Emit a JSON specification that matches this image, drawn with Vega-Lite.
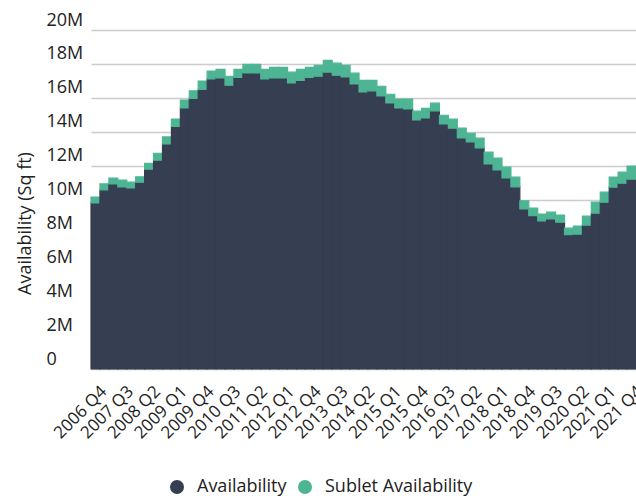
{
  "$schema": "https://vega.github.io/schema/vega-lite/v6.json",
  "width": 590,
  "height": 339,
  "autosize": {"type": "none"},
  "padding": {"left": 46, "top": 30, "right": 0, "bottom": 130},
  "background": "#ffffff",
  "config": {
    "font": "Open Sans",
    "view": {"stroke": null}
  },
  "data": {
    "values": [
      {"q": "2006 Q4", "Availability": 9800000, "Sublet Availability": 340000},
      {"q": "2007 Q1", "Availability": 10570000, "Sublet Availability": 350000},
      {"q": "2007 Q2", "Availability": 10920000, "Sublet Availability": 340000},
      {"q": "2007 Q3", "Availability": 10750000, "Sublet Availability": 390000},
      {"q": "2007 Q4", "Availability": 10690000, "Sublet Availability": 330000},
      {"q": "2008 Q1", "Availability": 11020000, "Sublet Availability": 320000},
      {"q": "2008 Q2", "Availability": 11790000, "Sublet Availability": 350000},
      {"q": "2008 Q3", "Availability": 12320000, "Sublet Availability": 410000},
      {"q": "2008 Q4", "Availability": 13280000, "Sublet Availability": 410000},
      {"q": "2009 Q1", "Availability": 14320000, "Sublet Availability": 430000},
      {"q": "2009 Q2", "Availability": 15400000, "Sublet Availability": 470000},
      {"q": "2009 Q3", "Availability": 15970000, "Sublet Availability": 440000},
      {"q": "2009 Q4", "Availability": 16500000, "Sublet Availability": 490000},
      {"q": "2010 Q1", "Availability": 17110000, "Sublet Availability": 470000},
      {"q": "2010 Q2", "Availability": 17170000, "Sublet Availability": 510000},
      {"q": "2010 Q3", "Availability": 16740000, "Sublet Availability": 530000},
      {"q": "2010 Q4", "Availability": 17210000, "Sublet Availability": 470000},
      {"q": "2011 Q1", "Availability": 17470000, "Sublet Availability": 510000},
      {"q": "2011 Q2", "Availability": 17470000, "Sublet Availability": 510000},
      {"q": "2011 Q3", "Availability": 17110000, "Sublet Availability": 570000},
      {"q": "2011 Q4", "Availability": 17170000, "Sublet Availability": 630000},
      {"q": "2012 Q1", "Availability": 17170000, "Sublet Availability": 630000},
      {"q": "2012 Q2", "Availability": 16880000, "Sublet Availability": 630000},
      {"q": "2012 Q3", "Availability": 17030000, "Sublet Availability": 650000},
      {"q": "2012 Q4", "Availability": 17210000, "Sublet Availability": 590000},
      {"q": "2013 Q1", "Availability": 17270000, "Sublet Availability": 650000},
      {"q": "2013 Q2", "Availability": 17520000, "Sublet Availability": 690000},
      {"q": "2013 Q3", "Availability": 17330000, "Sublet Availability": 710000},
      {"q": "2013 Q4", "Availability": 17230000, "Sublet Availability": 690000},
      {"q": "2014 Q1", "Availability": 16820000, "Sublet Availability": 630000},
      {"q": "2014 Q2", "Availability": 16350000, "Sublet Availability": 680000},
      {"q": "2014 Q3", "Availability": 16410000, "Sublet Availability": 620000},
      {"q": "2014 Q4", "Availability": 16110000, "Sublet Availability": 570000},
      {"q": "2015 Q1", "Availability": 15700000, "Sublet Availability": 510000},
      {"q": "2015 Q2", "Availability": 15400000, "Sublet Availability": 530000},
      {"q": "2015 Q3", "Availability": 15340000, "Sublet Availability": 590000},
      {"q": "2015 Q4", "Availability": 14700000, "Sublet Availability": 510000},
      {"q": "2016 Q1", "Availability": 14810000, "Sublet Availability": 570000},
      {"q": "2016 Q2", "Availability": 15230000, "Sublet Availability": 450000},
      {"q": "2016 Q3", "Availability": 14460000, "Sublet Availability": 510000},
      {"q": "2016 Q4", "Availability": 14210000, "Sublet Availability": 530000},
      {"q": "2017 Q1", "Availability": 13630000, "Sublet Availability": 580000},
      {"q": "2017 Q2", "Availability": 13400000, "Sublet Availability": 510000},
      {"q": "2017 Q3", "Availability": 13050000, "Sublet Availability": 570000},
      {"q": "2017 Q4", "Availability": 12100000, "Sublet Availability": 690000},
      {"q": "2018 Q1", "Availability": 11750000, "Sublet Availability": 690000},
      {"q": "2018 Q2", "Availability": 11280000, "Sublet Availability": 630000},
      {"q": "2018 Q3", "Availability": 10750000, "Sublet Availability": 570000},
      {"q": "2018 Q4", "Availability": 9450000, "Sublet Availability": 470000},
      {"q": "2019 Q1", "Availability": 9040000, "Sublet Availability": 450000},
      {"q": "2019 Q2", "Availability": 8740000, "Sublet Availability": 400000},
      {"q": "2019 Q3", "Availability": 8860000, "Sublet Availability": 390000},
      {"q": "2019 Q4", "Availability": 8660000, "Sublet Availability": 420000},
      {"q": "2020 Q1", "Availability": 7920000, "Sublet Availability": 390000},
      {"q": "2020 Q2", "Availability": 7960000, "Sublet Availability": 470000},
      {"q": "2020 Q3", "Availability": 8490000, "Sublet Availability": 530000},
      {"q": "2020 Q4", "Availability": 9200000, "Sublet Availability": 640000},
      {"q": "2021 Q1", "Availability": 9840000, "Sublet Availability": 590000},
      {"q": "2021 Q2", "Availability": 10730000, "Sublet Availability": 590000},
      {"q": "2021 Q3", "Availability": 10960000, "Sublet Availability": 650000},
      {"q": "2021 Q4", "Availability": 11200000, "Sublet Availability": 770000}
    ]
  },
  "transform": [
    {"fold": ["Availability", "Sublet Availability"], "as": ["series", "amount"]}
  ],
  "mark": {"type": "bar", "strokeWidth": 1.2, "strokeOpacity": 1, "fillOpacity": 1, "opacity": 1},
  "encoding": {
    "x": {
      "field": "q",
      "type": "ordinal",
      "sort": null,
      "scale": {"paddingInner": 0, "paddingOuter": 0, "range": [45, 590]},
      "axis": {
        "title": null,
        "domain": false,
        "ticks": false,
        "values": ["2006 Q4", "2007 Q3", "2008 Q2", "2009 Q1", "2009 Q4", "2010 Q3", "2011 Q2", "2012 Q1", "2012 Q4", "2013 Q3", "2014 Q2", "2015 Q1", "2015 Q4", "2016 Q3", "2017 Q2", "2018 Q1", "2018 Q4", "2019 Q3", "2020 Q2", "2021 Q1", "2021 Q4"],
        "labelAngle": -45,
        "labelAlign": "right",
        "labelBaseline": "top",
        "labelPadding": 14,
        "labelOffset": 3,
        "labelFontSize": 17,
        "labelColor": "#222222",
        "labelFont": "Open Sans",
        "labelOverlap": false
      }
    },
    "y": {
      "field": "amount",
      "type": "quantitative",
      "stack": "zero",
      "scale": {"domain": [0, 20000000], "nice": false},
      "axis": {
        "title": "Availability (Sq ft)",
        "titleFont": "Open Sans",
        "titleFontSize": 18,
        "titleFontWeight": "normal",
        "titleColor": "#222222",
        "titleX": -16,
        "titleY": 193,
        "titleBaseline": "alphabetic",
        "values": [0, 2000000, 4000000, 6000000, 8000000, 10000000, 12000000, 14000000, 16000000, 18000000, 20000000],
        "labelExpr": "datum.value == 0 ? '0' : (datum.value / 1000000) + 'M'",
        "labelAlign": "left",
        "labelBaseline": "alphabetic",
        "labelPadding": 0,
        "labelOffset": -5,
        "labelFontSize": 18,
        "labelFont": "Open Sans",
        "labelColor": "#222222",
        "ticks": false,
        "tickSize": 0,
        "domain": false,
        "grid": true,
        "gridColor": "#cccccc",
        "gridWidth": 1.5,
        "zindex": 0
      }
    },
    "color": {
      "field": "series",
      "type": "nominal",
      "scale": {"domain": ["Availability", "Sublet Availability"], "range": ["#353f51", "#4db594"]},
      "legend": {
        "title": null,
        "orient": "none",
        "direction": "horizontal",
        "legendX": 122,
        "legendY": 448,
        "symbolType": "circle",
        "symbolSize": 196,
        "symbolStrokeWidth": 0,
        "labelFontSize": 18,
        "labelFont": "Open Sans",
        "labelColor": "#222222",
        "columnPadding": 9,
        "labelOffset": 11
      }
    },
    "stroke": {
      "field": "series",
      "type": "nominal",
      "scale": {"domain": ["Availability", "Sublet Availability"], "range": ["#353f51", "#4db594"]},
      "legend": null
    },
    "order": {"field": "series", "sort": "ascending"}
  }
}
